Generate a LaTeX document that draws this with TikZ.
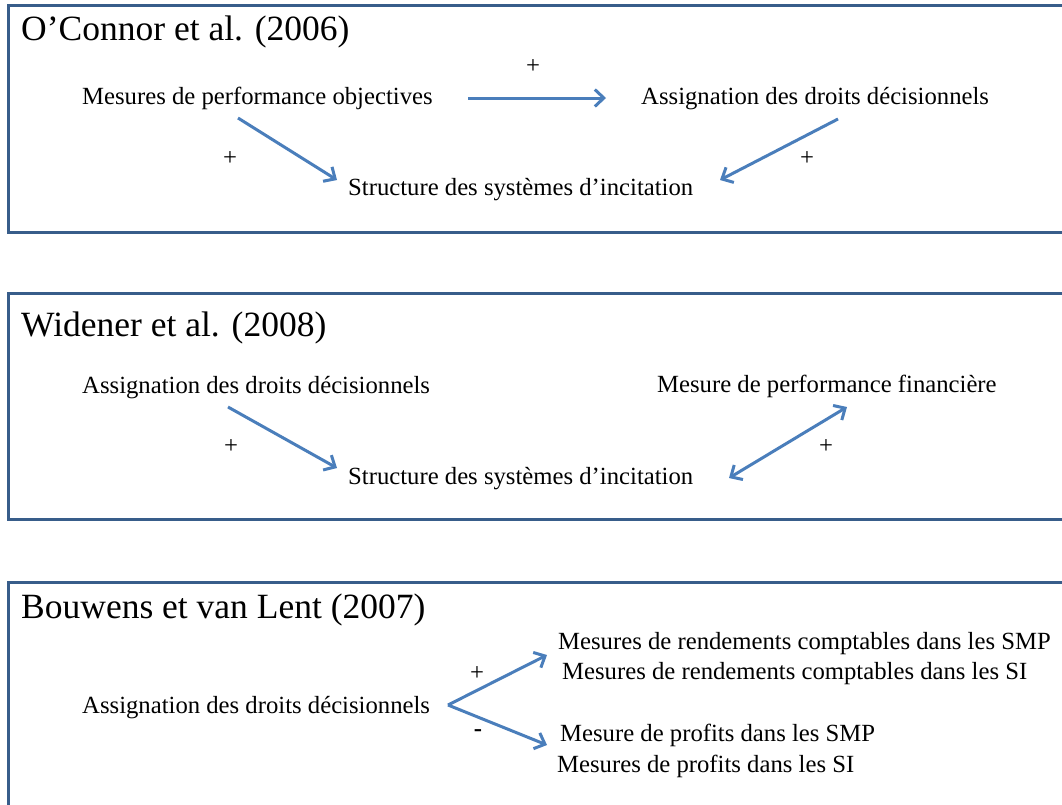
\documentclass[tikz,border=0pt]{standalone}
\usepackage{fontspec}
\setmainfont{Liberation Serif}
\usetikzlibrary{arrows.meta}

\definecolor{cadrebleu}{HTML}{385D8A}
\definecolor{flechebleu}{HTML}{4A7EBB}

\tikzset{
  >={Straight Barb[length=9pt,width=17pt]},
  cadre/.style={draw=cadrebleu, line width=3pt},
  fleche/.style={draw=flechebleu, line width=3pt},
  titre/.style={anchor=base west, inner sep=0pt, font=\fontsize{35.5}{40}\selectfont},
  texte/.style={anchor=base west, inner sep=0pt, font=\fontsize{24.7}{30}\selectfont},
  signe/.style={inner sep=0pt, font=\fontsize{24.7}{30}\selectfont},
}

\begin{document}
\begin{tikzpicture}[x=1pt,y=-1pt]
  \useasboundingbox (0,0) rectangle (1062,804);
  \clip (0,0) rectangle (1062,804);

  % Frames
  \draw[cadre] (8,5.5) rectangle (1080,232);
  \draw[cadre] (8,293) rectangle (1080,519.5);
  \draw[cadre] (8,582) rectangle (1080,830);

  % O'Connor et al.
  \node[titre] (t1) at (21,40) {O’Connor et al. (2006)};
  \node[texte] (mpo) at (82,104) {Mesures de performance objectives};
  \node[texte] (adc1) at (641,104) {Assignation des droits décisionnels};
  \node[texte] (ssi1) at (348,195) {Structure des systèmes d’incitation};
  \node[signe] (p1) at (533,67) {+};
  \node[signe] (p2) at (230,159) {+};
  \node[signe] (p3) at (807,159) {+};
  \coordinate (h1) at (468,98);
  \coordinate (h2) at (606,98);
  \coordinate (d1) at (238,118);
  \coordinate (d2) at (337,180);
  \coordinate (d3) at (838,119);
  \coordinate (d4) at (720,180);
  \draw[fleche,->] (h1) -- (h2);
  \draw[fleche,->] (d1) -- (d2);
  \draw[fleche,->] (d3) -- (d4);

  % Widener et al.
  \node[titre] (t2) at (21,336) {Widener et al. (2008)};
  \node[texte] (adc2) at (82,393) {Assignation des droits décisionnels};
  \node[texte] (mpf) at (657,392) {Mesure de performance financière};
  \node[texte] (ssi2) at (348,484) {Structure des systèmes d’incitation};
  \node[signe] (p4) at (231,447) {+};
  \node[signe] (p5) at (826,447) {+};
  \coordinate (e1) at (228,407);
  \coordinate (e2) at (337,468);
  \coordinate (e3) at (729,478);
  \coordinate (e4) at (847,407);
  \draw[fleche,->] (e1) -- (e2);
  \draw[fleche,<->] (e3) -- (e4);

  % Bouwens et van Lent
  \node[titre] (t3) at (21,618) {Bouwens et van Lent (2007)};
  \node[texte] (adc3) at (82,713) {Assignation des droits décisionnels};
  \node[texte] (rsmp) at (558,649) {Mesures de rendements comptables dans les SMP};
  \node[texte] (rsi) at (562,679) {Mesures de rendements comptables dans les SI};
  \node[texte] (psmp) at (560,741) {Mesure de profits dans les SMP};
  \node[texte] (psi) at (557,772) {Mesures de profits dans les SI};
  \node[signe] (p6) at (477,674) {+};
  \node[signe] (m1) at (478,733) {\textbf{-}};
  \coordinate (v) at (448,705);
  \coordinate (v1) at (547,655);
  \coordinate (v2) at (547,745);
  \draw[fleche,->] (v) -- (v1);
  \draw[fleche,->] (v) -- (v2);
\end{tikzpicture}
\end{document}
